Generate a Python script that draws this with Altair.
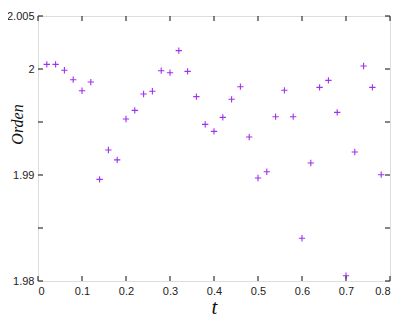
import altair as alt
import pandas as pd

t_vals = [0.02, 0.04, 0.06, 0.08, 0.10, 0.12, 0.14, 0.16, 0.18, 0.20,
          0.22, 0.24, 0.26, 0.28, 0.30, 0.32, 0.34, 0.36, 0.38, 0.40,
          0.42, 0.44, 0.46, 0.48, 0.50, 0.52, 0.54, 0.56, 0.58, 0.60,
          0.62, 0.64, 0.66, 0.68, 0.70, 0.72, 0.74, 0.76, 0.78]
orden_vals = [2.00044, 2.00044, 1.99988, 1.99899, 1.99795, 1.99877, 1.98959, 1.99236, 1.99143, 1.99528,
              1.99610, 1.99764, 1.99790, 1.99984, 1.99965, 2.00173, 1.99978, 1.99739, 1.99478, 1.99412,
              1.99544, 1.99714, 1.99833, 1.99358, 1.98972, 1.99031, 1.99550, 1.99799, 1.99550, 1.98403,
              1.99113, 1.99827, 1.99893, 1.99591, 1.98050, 1.99217, 2.00028, 1.99827, 1.99003]
x_ticks = [0, 0.1, 0.2, 0.3, 0.4, 0.5, 0.6, 0.7, 0.8]
y_ticks = [1.98, 1.985, 1.99, 1.995, 2.0, 2.005]

df = pd.DataFrame({"t": t_vals, "orden": orden_vals})
xt = pd.DataFrame({"t": x_ticks})
yt = pd.DataFrame({"orden": y_ticks})

xscale = alt.Scale(domain=[0, 0.8], nice=False, zero=False)
yscale = alt.Scale(domain=[1.98, 2.005], nice=False, zero=False)

plus = "M-1,0L1,0M0,-1L0,1"

main = alt.Chart(df).mark_point(shape=plus, filled=False, strokeWidth=1.1,
                                 size=40, color="#a030f0", opacity=1).encode(
    x=alt.X("t:Q", scale=xscale,
            axis=alt.Axis(orient="bottom", values=x_ticks, format="~r",
                          ticks=False, grid=False, domain=False,
                          labelPadding=4, labelFont="Liberation Sans", labelFontSize=11,
                          labelColor="#222", title="t", titleFont="Liberation Serif",
                          titleFontStyle="italic", titleFontWeight="normal",
                          titleFontSize=21, titleColor="#111",
                          titleX=176, titleY=26, titleBaseline="middle",
                          titleAlign="center")),
    y=alt.Y("orden:Q", scale=yscale,
            axis=alt.Axis(orient="left", values=y_ticks, labelPadding=4,
                          ticks=False, grid=False, domain=False,
                          labelExpr="(abs(datum.value-1.985)<1e-9 || abs(datum.value-1.995)<1e-9) ? '' : format(datum.value, '~r')",
                          labelFont="Liberation Sans", labelFontSize=11, labelColor="#222",
                          title="Orden", titleFont="Liberation Serif", titleFontStyle="italic",
                          titleFontWeight="normal", titleFontSize=16, titleColor="#111",
                          titleAngle=-90, titleX=-21, titleY=108,
                          titleBaseline="middle", titleAlign="center")),
)

tick_style = dict(color="#333", thickness=1.2, size=5, opacity=1)

bottom_ticks = alt.Chart(xt).mark_tick(orient="vertical", yOffset=-2.5, **tick_style).encode(
    x=alt.X("t:Q", scale=xscale), y=alt.datum(1.98, type="quantitative"))
top_ticks = alt.Chart(xt).mark_tick(orient="vertical", yOffset=2.5, **tick_style).encode(
    x=alt.X("t:Q", scale=xscale), y=alt.datum(2.005, type="quantitative"))
left_ticks = alt.Chart(yt).mark_tick(orient="horizontal", xOffset=2.5, **tick_style).encode(
    y=alt.Y("orden:Q", scale=yscale), x=alt.datum(0, type="quantitative"))
right_ticks = alt.Chart(yt).mark_tick(orient="horizontal", xOffset=-2.5, **tick_style).encode(
    y=alt.Y("orden:Q", scale=yscale), x=alt.datum(0.8, type="quantitative"))

chart = alt.layer(main, bottom_ticks, top_ticks, left_ticks, right_ticks).properties(
    width=352, height=265,
    autosize=alt.AutoSizeParams(type="none"),
    padding={"left": 30, "top": 8, "right": 10, "bottom": 36},
).configure_view(stroke="#555", strokeWidth=1.6).configure(background="white")

chart.save("out.html", embed_options={"renderer": "svg", "actions": False})
